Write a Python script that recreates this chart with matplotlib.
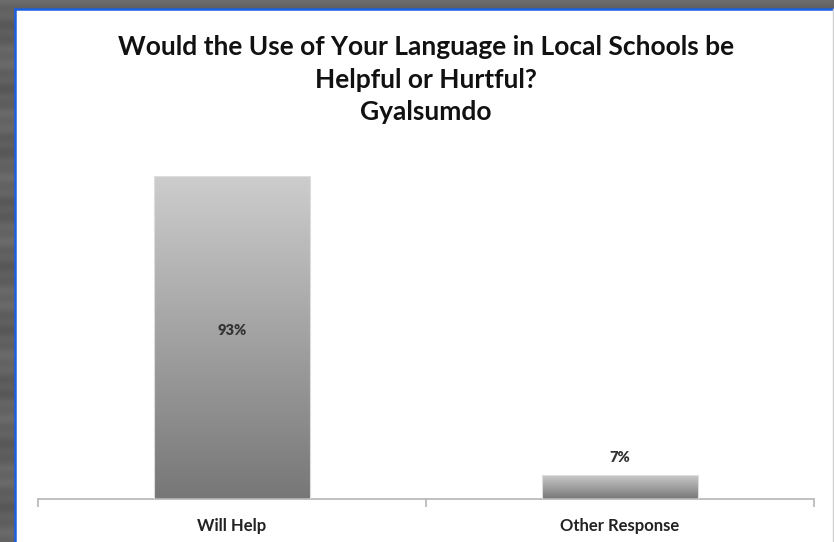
import numpy as np
import matplotlib
matplotlib.use("Agg")
import matplotlib.pyplot as plt
from matplotlib.patches import Rectangle
from matplotlib.colors import LinearSegmentedColormap

categories = ["Will Help", "Other Response"]
values = [93, 7]
value_labels = ["93%", "7%"]
title_lines = ["Would the Use of Your Language in Local Schools be",
               "Helpful or Hurtful?",
               "Gyalsumdo"]

W, H = 834, 542
fig = plt.figure(figsize=(W / 100, H / 100), dpi=100)
fig.patch.set_facecolor("#5c5c5e")

# metallic frame: faint horizontal brushed bands
bg = fig.add_axes([0, 0, 1, 1])
bg.set_axis_off()
rows = np.linspace(0, 1, H)
shade = 0.38 + 0.025 * np.cos(rows * 57.0) + 0.015 * np.cos(rows * 211.0)
bg.imshow(shade[:, None] * np.ones((1, 4)), cmap="gray", vmin=0, vmax=1,
          aspect="auto", extent=[0, 1, 0, 1], interpolation="bilinear")
bg.set_xlim(0, 1)
bg.set_ylim(0, 1)

# white slide panel with blue edge
px0, py_top = 15 / W, 1 - 9 / H
bg.add_patch(Rectangle((px0, 0), 1 - px0, py_top, facecolor="white",
                       edgecolor="none", zorder=2))
bg.plot([px0, px0], [0, py_top], color="#1a5fe0", lw=1.8, zorder=3)
bg.plot([px0, 1], [py_top, py_top], color="#1a5fe0", lw=1.8, zorder=3)
bg.plot([1 - 1 / W, 1 - 1 / W], [0, py_top], color="#cfcfcf", lw=1.0, zorder=3)

# title
title_y = [47, 80, 112]
for line, y in zip(title_lines, title_y):
    fig.text(426 / W, 1 - y / H, line, ha="center", va="center",
             fontsize=19, fontweight="bold", family="Lato", color="#111111")

# chart axes: x from 38 to 814 px, baseline at 499 px
ax_left, ax_right = 38, 814
base_y = 499
scale = (base_y - 176) / values[0]
top_val = 100
ax_h = top_val * scale
ax = fig.add_axes([ax_left / W, 1 - base_y / H, (ax_right - ax_left) / W, ax_h / H])
ax.set_facecolor("none")
x = np.arange(len(categories))

bars = ax.bar(x, values, width=0.4, color="none", edgecolor="none")
cmap = LinearSegmentedColormap.from_list("bargrad", ["#777777", "#cdcdcd"])
grad = np.linspace(0, 1, 256)[:, None]
for b in bars:
    x0, y0 = b.get_x(), b.get_y()
    w, h = b.get_width(), b.get_height()
    im = ax.imshow(grad, cmap=cmap, aspect="auto", origin="lower",
                   extent=[x0, x0 + w, y0, y0 + h], interpolation="bilinear",
                   zorder=2)
    im.set_clip_path(b)
    ax.add_patch(Rectangle((x0, y0), w, h, facecolor="none",
                           edgecolor="#dddddd", lw=0.8, zorder=3))

ax.set_xlim(-0.5, len(categories) - 0.5)
ax.set_ylim(0, top_val)

# value labels
ax.text(x[0], values[0] / 2 + 2, value_labels[0], ha="center", va="center",
        fontsize=10.5, fontweight="heavy", family="Lato", color="#333333", zorder=4)
ax.text(x[1], values[1] + 5, value_labels[1], ha="center", va="center",
        fontsize=10.5, fontweight="heavy", family="Lato", color="#333333", zorder=4)

for s in ["top", "right", "left"]:
    ax.spines[s].set_visible(False)
ax.spines["bottom"].set_color("#b5b5b5")
ax.spines["bottom"].set_linewidth(1.2)
ax.set_yticks([])
ax.set_xticks([-0.5, 0.5, 1.5], minor=False)
ax.set_xticklabels([])
ax.tick_params(axis="x", length=6, width=1.2, color="#b5b5b5", direction="out")
ax.set_xticks(x, minor=True)
ax.set_xticklabels(categories, minor=True, fontsize=12, fontweight="bold",
                   family="Lato", color="#222222")
ax.tick_params(axis="x", which="minor", length=0, pad=14)

fig.savefig("out.png", dpi=100, facecolor=fig.get_facecolor())
